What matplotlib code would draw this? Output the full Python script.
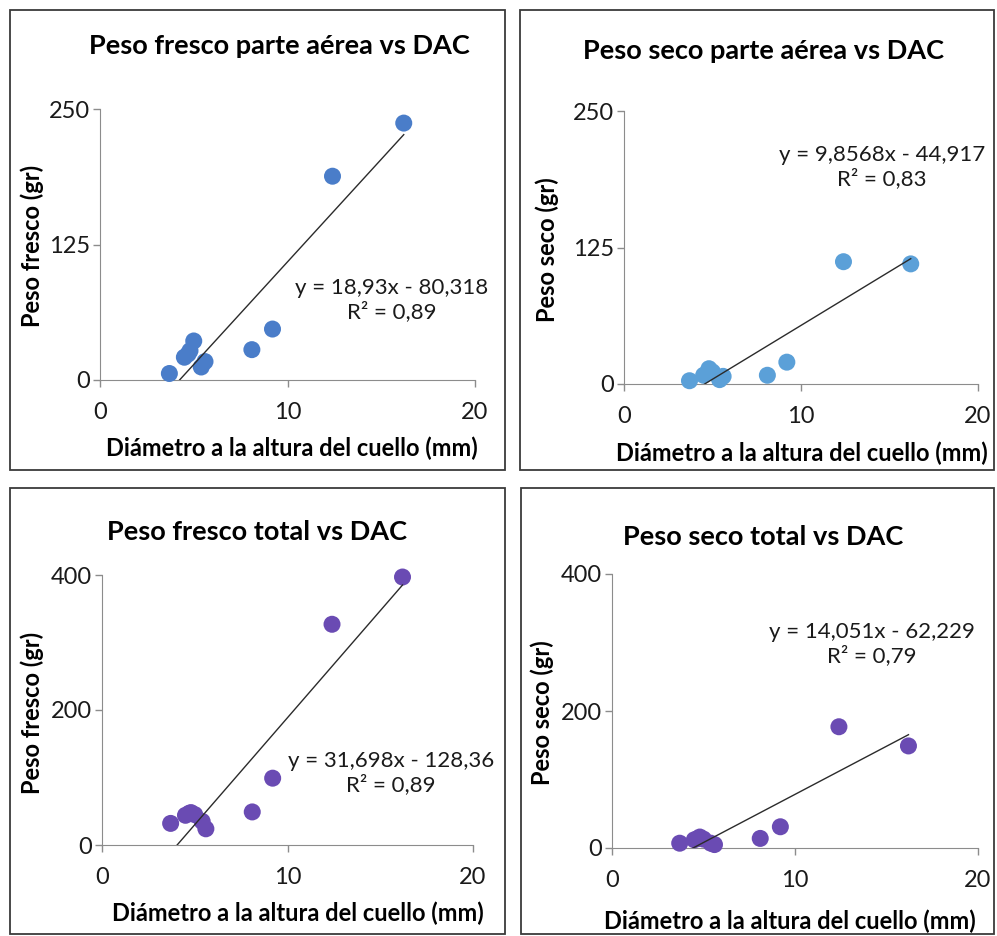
import matplotlib.pyplot as plt
from matplotlib.patches import Rectangle

# DAC (mm), same plants in every panel
dac = [3.7, 4.5, 4.7, 4.8, 5.0, 5.4, 5.6, 8.1, 9.2, 12.4, 16.2]

# Weights (gr)
pf_aerea = [6, 21, 24, 27, 36, 12, 17, 28, 47, 188, 237]
ps_aerea = [3, 8, 10, 14, 11, 4, 7, 8, 20, 112, 110]
pf_total = [32, 44, 47, 48, 45, 35, 24, 49, 99, 327, 397]
ps_total = [7, 12, 14, 16, 13, 7, 5, 14, 31, 177, 149]

titles = ['Peso fresco parte aérea vs DAC', 'Peso seco parte aérea vs DAC',
          'Peso fresco total vs DAC', 'Peso seco total vs DAC']
ylabels = ['Peso fresco (gr)', 'Peso seco (gr)', 'Peso fresco (gr)', 'Peso seco (gr)']
slopes = [18.93, 9.8568, 31.698, 14.051]
intercepts = [-80.318, -44.917, -128.36, -62.229]
eq_labels = ['y = 18,93x - 80,318\nR² = 0,89', 'y = 9,8568x - 44,917\nR² = 0,83',
             'y = 31,698x - 128,36\nR² = 0,89', 'y = 14,051x - 62,229\nR² = 0,79']
yticks = [[0, 125, 250], [0, 125, 250], [0, 200, 400], [0, 200, 400]]
colors = ['#4a7dc9', '#5ba0d8', '#6a4bb3', '#6a4bb3']
series = [pf_aerea, ps_aerea, pf_total, ps_total]

W, H = 997, 936
plt.rcParams['font.family'] = ['Lato', 'DejaVu Sans']

fig = plt.figure(figsize=(W / 100, H / 100), dpi=100)


def fx(x):
    return x / W


def fy(y):
    return 1 - y / H


# layout in pixels: panel box, axes box, title, xlabel, ylabel, equation
boxes = [(10, 10, 505, 470), (520, 10, 994, 470), (10, 488, 505, 934), (521, 488, 994, 934)]
axboxes = [(100, 109, 475, 380), (624, 111, 978, 384), (102, 575, 473, 845), (612, 574, 978, 848)]
title_pos = [(279, 46), (763, 51), (257, 532), (763, 537)]
xlabel_pos = [(292, 448), (802, 453), (298, 913), (790, 921)]
ylabel_pos = [(32, 246), (547, 250), (32, 713), (542, 713)]
eq_pos = [(392, 300), (882, 167), (391, 773), (872, 644)]

for i in range(4):
    x0, y0, x1, y1 = boxes[i]
    fig.patches.append(Rectangle((fx(x0), fy(y1)), fx(x1 - x0), (y1 - y0) / H,
                                 transform=fig.transFigure, fill=False,
                                 edgecolor='#3a3a3a', linewidth=1.3))

    a0, b0, a1, b1 = axboxes[i]
    ax = fig.add_axes([fx(a0), fy(b1), fx(a1 - a0), (b1 - b0) / H])
    ax.scatter(dac, series[i], s=150, color=colors[i], edgecolors='none', zorder=3,
               clip_on=False)

    # linear trendline over the data range, clipped by the axes
    xs = [min(dac), max(dac)]
    ax.plot(xs, [slopes[i] * x + intercepts[i] for x in xs], color='#2b2b2b', lw=1.0, zorder=4)

    ax.set_xlim(0, 20)
    ax.set_ylim(0, yticks[i][-1])
    ax.set_xticks([0, 10, 20])
    ax.set_yticks(yticks[i])
    ax.tick_params(direction='out', length=5, width=1, color='#8c8c8c',
                   labelsize=17, labelcolor='#1a1a1a', pad=2)
    ax.tick_params(axis='x', pad=11)
    for s in ['top', 'right']:
        ax.spines[s].set_visible(False)
    for s in ['left', 'bottom']:
        ax.spines[s].set_color('#8c8c8c')
    ax.patch.set_alpha(0)

    fig.text(fx(title_pos[i][0]), fy(title_pos[i][1]), titles[i], ha='center', va='center',
             fontsize=19.5, fontweight='bold')
    fig.text(fx(xlabel_pos[i][0]), fy(xlabel_pos[i][1]), 'Diámetro a la altura del cuello (mm)',
             ha='center', va='center', fontsize=17, fontweight='bold')
    fig.text(fx(ylabel_pos[i][0]), fy(ylabel_pos[i][1]), ylabels[i], ha='center', va='center',
             fontsize=17, fontweight='bold', rotation=90)
    fig.text(fx(eq_pos[i][0]), fy(eq_pos[i][1]), eq_labels[i], ha='center', va='center',
             fontsize=16, linespacing=1.2, color='#1a1a1a')

plt.savefig('out.png', dpi=100)
